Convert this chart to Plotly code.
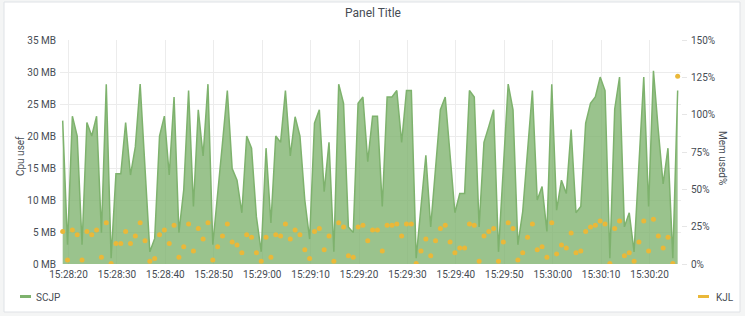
import pandas as pd
import plotly.graph_objects as go

# ---------------- data ----------------
start_time = "2023-01-01 15:28:18.8"
n_points = 128

scjp_mb = [22.4, 3.0, 23.1, 20.0, 3.0, 22.1, 20.0, 23.1, 4.9, 28.1,
           0.9, 14.1, 14.1, 22.1, 13.9, 18.3, 28.1, 14.2, 1.9, 4.0,
           20.0, 23.1, 13.9, 26.1, 4.9, 11.6, 27.1, 9.0, 24.1, 16.9,
           28.1, 3.0, 11.6, 18.9, 27.1, 14.9, 13.1, 8.0, 20.0, 18.1,
           7.4, 1.9, 18.1, 6.4, 20.0, 19.0, 27.1, 16.9, 23.0, 20.0,
           10.0, 3.9, 22.0, 24.1, 11.3, 19.0, 1.9, 28.1, 25.1, 5.8,
           4.9, 25.1, 26.1, 16.0, 23.1, 23.1, 9.0, 26.1, 26.1, 27.1,
           19.0, 27.1, 27.1, 0.9, 9.0, 17.0, 5.8, 14.7, 24.1, 26.1,
           16.8, 8.0, 11.0, 11.0, 27.1, 26.1, 5.8, 19.0, 21.5, 24.1,
           1.9, 15.2, 28.1, 24.1, 3.0, 8.2, 17.3, 27.1, 10.0, 12.1,
           5.1, 28.1, 8.4, 13.1, 11.0, 21.0, 8.0, 9.0, 22.0, 25.1,
           26.1, 29.2, 27.1, 0.9, 24.2, 29.2, 5.8, 8.0, 1.9, 15.7,
           29.2, 9.0, 30.2, 20.9, 12.5, 18.1, 0.9, 27.1]

kjl_pct = [21.7, 2.7, 22.8, 19.6, 2.7, 21.7, 19.6, 22.8, 4.5, 27.7,
           0.4, 13.8, 13.8, 21.7, 13.8, 18.7, 27.7, 15.6, 1.8, 3.6,
           19.6, 22.8, 13.8, 25.9, 4.5, 11.6, 26.8, 8.7, 23.7, 16.7,
           27.7, 2.7, 11.6, 18.7, 26.8, 14.7, 12.7, 7.6, 19.6, 17.9,
           7.6, 1.8, 17.9, 4.5, 19.6, 18.7, 26.8, 16.7, 22.8, 19.6,
           9.6, 3.6, 21.7, 23.7, 9.6, 18.7, 1.8, 27.7, 24.8, 5.6,
           4.5, 24.8, 25.9, 15.6, 22.8, 22.8, 8.7, 25.9, 25.9, 26.8,
           18.7, 26.8, 26.8, 0.4, 8.7, 16.7, 5.6, 15.6, 23.7, 25.9,
           14.7, 7.6, 10.7, 10.7, 26.8, 25.9, 1.8, 18.7, 21.7, 23.7,
           1.8, 14.7, 27.7, 23.7, 2.7, 7.6, 17.9, 26.8, 9.6, 11.6,
           4.5, 27.7, 6.7, 12.7, 10.7, 20.8, 7.6, 8.7, 21.7, 24.8,
           25.9, 28.8, 26.8, 0.4, 23.7, 28.8, 5.6, 7.6, 1.8, 14.7,
           28.8, 8.7, 29.9, 18.7, 10.7, 17.9, 0.4, 125.7]

left_tickvals = [0, 5, 10, 15, 20, 25, 30, 35]
left_ticktext = ["0 MB", "5 MB", "10 MB", "15 MB", "20 MB", "25 MB", "30 MB", "35 MB"]
right_tickvals = [0, 25, 50, 75, 100, 125, 150]
right_ticktext = ["0%", "25%", "50%", "75%", "100%", "125%", "150%"]

series_names = ["SCJP", "KJL"]
title_text = "Panel Title"
left_title = "Cpu usef"
right_title = "Mem used%"

times = pd.date_range(start_time, periods=n_points, freq="1s")
x_range = [pd.Timestamp("2023-01-01 15:28:18.245"), pd.Timestamp("2023-01-01 15:30:26.49")]

# ---------------- layout geometry ----------------
W, H = 745, 316
PL, PR, PT, PB = 60, 681, 40, 264

def px(x):
    return (x - PL) / (PR - PL)

def py(y):
    return (PB - y) / (PB - PT)

GREEN = "#7EB26D"
YELLOW = "#EAB839"
TXT = "#464c54"
FONT = "Roboto"

fig = go.Figure()
fig.add_trace(go.Scatter(
    x=times, y=scjp_mb, name=series_names[0], mode="lines",
    line=dict(color=GREEN, width=1.5), fill="tozeroy",
    fillcolor="rgba(126,178,109,0.78)", yaxis="y", showlegend=False))
fig.add_trace(go.Scatter(
    x=times, y=kjl_pct, name=series_names[1], mode="markers",
    marker=dict(color=YELLOW, size=5), yaxis="y2", showlegend=False))

shapes = [
    # panel
    dict(type="rect", xref="paper", yref="paper", x0=px(4), x1=px(740), y0=py(312), y1=py(2),
         fillcolor="white", line=dict(color="#dfe2e6", width=1), layer="below"),
    # legend dashes
    dict(type="line", xref="paper", yref="paper", x0=px(20), x1=px(31), y0=py(296.5), y1=py(296.5),
         line=dict(color=GREEN, width=3)),
    dict(type="line", xref="paper", yref="paper", x0=px(698), x1=px(709), y0=py(296.5), y1=py(296.5),
         line=dict(color=YELLOW, width=3)),
]

annotations = [
    dict(text=title_text, x=px(372.5), y=py(13), xref="paper", yref="paper", showarrow=False,
         font=dict(family=FONT, size=12, color=TXT), xanchor="center", yanchor="middle"),
    dict(text=left_title, x=px(20), y=py(156), xref="paper", yref="paper", showarrow=False,
         textangle=-90, font=dict(family=FONT, size=10, color=TXT), xanchor="center", yanchor="middle"),
    dict(text=right_title, x=px(723), y=py(158), xref="paper", yref="paper", showarrow=False,
         textangle=90, font=dict(family=FONT, size=10, color=TXT), xanchor="center", yanchor="middle"),
    dict(text=series_names[0], x=px(34), y=py(297), xref="paper", yref="paper", showarrow=False,
         font=dict(family=FONT, size=10, color=TXT), xanchor="left", yanchor="middle"),
    dict(text=series_names[1], x=px(714), y=py(297), xref="paper", yref="paper", showarrow=False,
         font=dict(family=FONT, size=10, color=TXT), xanchor="left", yanchor="middle"),
]

fig.update_layout(
    width=W, height=H,
    margin=dict(l=PL, r=W - PR, t=PT, b=H - PB, pad=0),
    paper_bgcolor="#f4f5f5", plot_bgcolor="rgba(0,0,0,0)",
    font=dict(family=FONT, size=10, color=TXT),
    showlegend=False,
    shapes=shapes, annotations=annotations,
    xaxis=dict(type="date", range=x_range, tickformat="%H:%M:%S",
               tick0="2023-01-01 15:28:20", dtick=10000,
               showgrid=True, gridcolor="#ececec", gridwidth=1,
               zeroline=False, showline=False, ticks="",
               ticklabelstandoff=3,
               tickfont=dict(family=FONT, size=10, color=TXT)),
    yaxis=dict(range=[0, 35], tickvals=left_tickvals, ticktext=left_ticktext,
               showgrid=True, gridcolor="#ececec", gridwidth=1,
               zeroline=False, showline=False, ticks="",
               ticklabelstandoff=3,
               tickfont=dict(family=FONT, size=10, color=TXT)),
    yaxis2=dict(range=[0, 150], tickvals=right_tickvals, ticktext=right_ticktext,
                overlaying="y", side="right", showgrid=False,
                zeroline=False, showline=False, ticks="outside", ticklen=5,
                tickcolor="#e6e6e6", ticklabelstandoff=2,
                tickfont=dict(family=FONT, size=10, color=TXT)),
)

fig.write_html("out.html")
